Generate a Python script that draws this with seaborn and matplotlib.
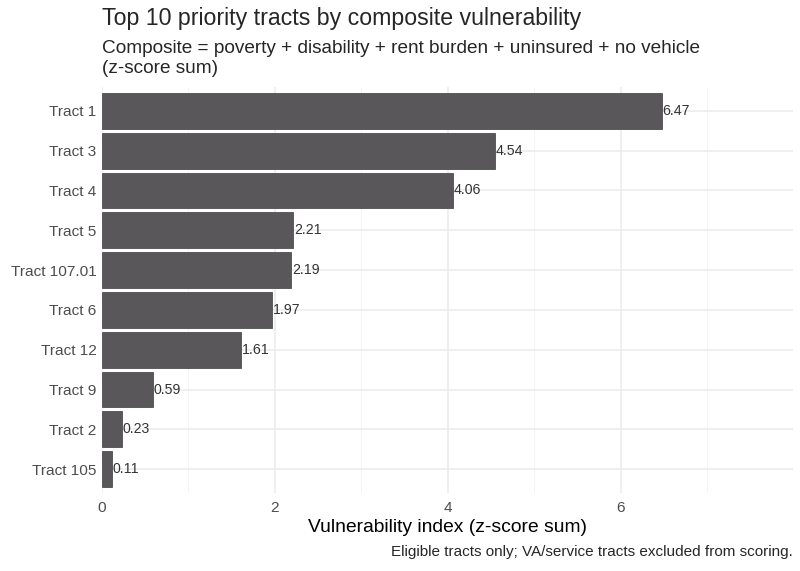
import matplotlib.pyplot as plt
import seaborn as sns
import pandas as pd
from matplotlib.ticker import MultipleLocator

tracts = ["Tract 1", "Tract 3", "Tract 4", "Tract 5", "Tract 107.01",
          "Tract 6", "Tract 12", "Tract 9", "Tract 2", "Tract 105"]
scores = [6.47, 4.54, 4.06, 2.21, 2.19, 1.97, 1.61, 0.59, 0.23, 0.11]

df = pd.DataFrame({"tract": tracts, "score": scores})

sns.set_style("whitegrid")
plt.rcParams["font.family"] = ["Liberation Sans", "DejaVu Sans"]

fig, ax = plt.subplots(figsize=(8, 5.71), dpi=100)
fig.subplots_adjust(left=102 / 800, right=793 / 800, top=1 - 87 / 571, bottom=1 - 493 / 571)

sns.barplot(data=df, x="score", y="tract", orient="h", color="#5a575b",
            saturation=1, width=0.9, edgecolor="#3d3b3e", linewidth=0.5, ax=ax)

for i, v in enumerate(scores):
    ax.text(v + 0.01, i, f"{v:.2f}", va="center", ha="left", fontsize=10.2, color="#333333")

ax.set_xlim(0, 7.99)
ax.set_ylim(9.6, -0.6)
ax.xaxis.set_major_locator(MultipleLocator(2))
ax.xaxis.set_minor_locator(MultipleLocator(1))
ax.grid(True, which="major", color="#ebebeb", linewidth=1.1)
ax.grid(True, which="minor", axis="x", color="#f3f3f3", linewidth=0.6)
ax.set_axisbelow(True)
for s in ax.spines.values():
    s.set_visible(False)

ax.tick_params(axis="both", which="both", length=0, labelsize=11.1, labelcolor="#4d4d4d", pad=4)
ax.tick_params(axis="x", pad=6)
ax.set_xlabel("Vulnerability index (z-score sum)", fontsize=13.9, color="black", labelpad=3)
ax.set_ylabel("")

fig.text(102 / 800, 1 - 18.5 / 571, "Top 10 priority tracts by composite vulnerability",
         fontsize=16.7, ha="left", va="center")
fig.text(102 / 800, 1 - 58.5 / 571,
         "Composite = poverty + disability + rent burden + uninsured + no vehicle\n(z-score sum)",
         fontsize=13.7, ha="left", va="center", linespacing=1.25)
fig.text(793 / 800, 1 - 552 / 571,
         "Eligible tracts only; VA/service tracts excluded from scoring.",
         fontsize=11, ha="right", va="center")

fig.savefig("out.png", dpi=100)
